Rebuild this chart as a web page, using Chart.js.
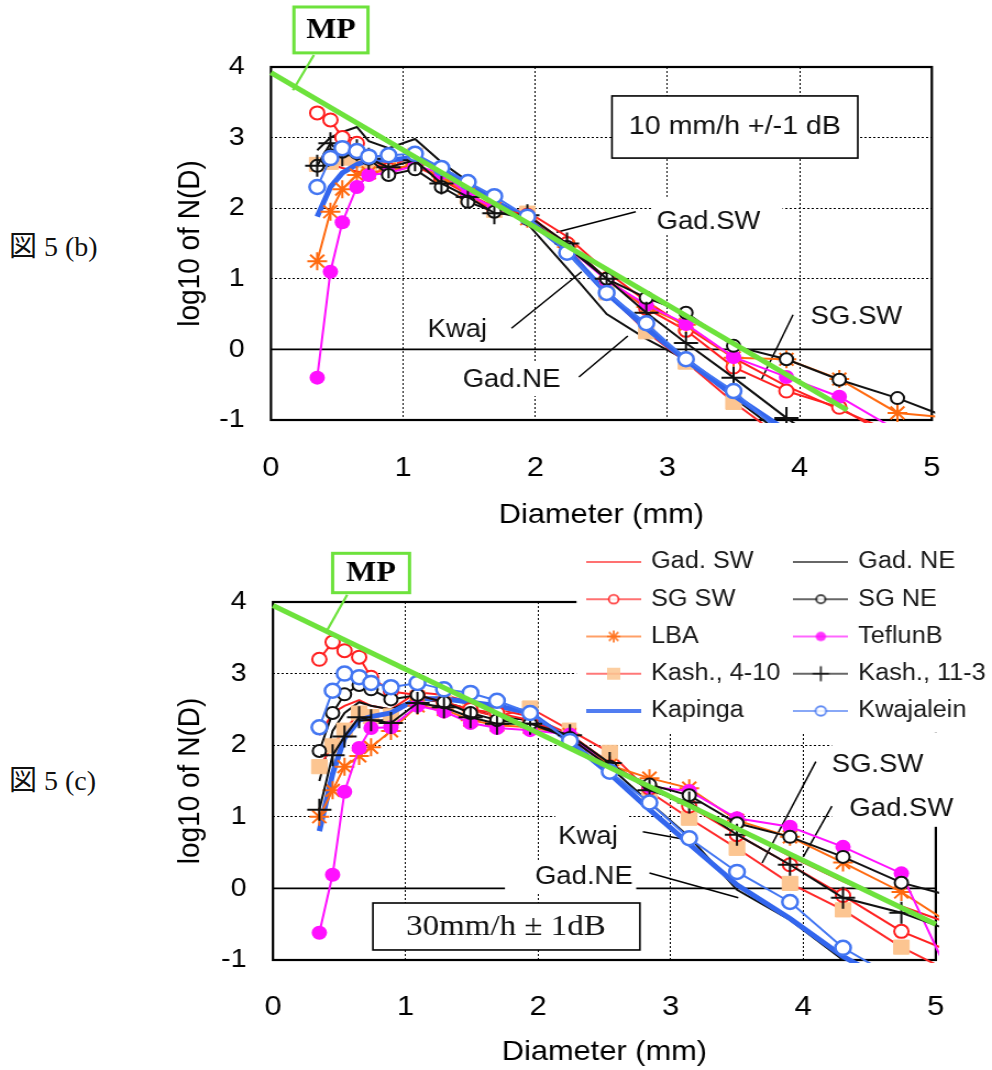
<!DOCTYPE html>
<html>
<head>
<meta charset="utf-8">
<script src="https://cdn.jsdelivr.net/npm/chart.js@4.4.1/dist/chart.umd.min.js"></script>
<style>
  body { margin: 0; background: #fff; }
  #page { position: relative; width: 992px; height: 1070px; overflow: hidden; }
  canvas { position: absolute; left: 0; }
  .fig { position: absolute; left: 9px; font: 28px "Liberation Serif", "Noto Sans CJK JP", serif; color: #111; line-height: 30px; }
</style>
</head>
<body>
<div id="page">
  <div class="fig" style="top:232px">図 5 (b)</div>
  <canvas id="chart-b" width="902" height="540" style="top:0;width:992px;height:540px"></canvas>
  <div class="fig" style="top:766px">図 5 (c)</div>
  <canvas id="chart-c" width="902" height="530" style="top:540px;width:992px;height:530px"></canvas>
</div>
<script>
// drop diameter bins (mm), shared by every site
const diameters = [0.35, 0.45, 0.54, 0.65, 0.74, 0.89, 1.09, 1.29, 1.49, 1.69, 1.94, 2.24, 2.54, 2.84, 3.14, 3.5, 3.9, 4.3, 4.74, 5.2];

const seriesNames = ["Gad. SW", "SG SW", "LBA", "Kash., 4-10", "Kapinga", "Gad. NE", "SG NE", "TeflunB", "Kash., 11-3", "Kwajalein"];

// log10 N(D), 10 mm/h
const gadSW_b   = [2.68, 2.62, 2.57, 2.52, 2.48, 2.5, 2.63, 2.4, 2.2, 2.02, 1.95, 1.6, 1.1, 0.68, 0.32, -0.12, -0.52, -0.85, -1.2, null];
const sgSW_b    = [3.35, 3.25, 3.0, 2.92, 2.72, 2.55, 2.6, 2.42, 2.2, 2.0, 1.9, 1.5, 1.0, 0.58, 0.27, -0.25, -0.59, -0.82, -1.3, null];
const lba_b     = [1.25, 1.95, 2.27, 2.47, 2.5, 2.55, 2.62, 2.45, 2.2, 2.0, 1.85, 1.45, 1.0, 0.6, 0.35, -0.12, -0.14, -0.42, -0.9, -0.98];
const kash410_b = [2.62, 2.65, 2.71, 2.68, 2.62, 2.58, 2.75, 2.5, 2.16, 1.97, 1.93, 1.45, 0.8, 0.25, -0.18, -0.75, -1.3, null, null, null];
const kapinga_b = [1.88, 2.3, 2.5, 2.62, 2.68, 2.68, 2.72, 2.55, 2.35, 2.1, 1.85, 1.4, 0.8, 0.3, -0.15, -0.65, -1.15, null, null, null];
const gadNE_b   = [2.82, 3.0, 3.08, 3.15, 2.95, 2.85, 2.98, 2.65, 2.38, 2.1, 1.78, 1.15, 0.5, 0.15, -0.15, -0.68, -1.25, null, null, null];
const sgNE_b    = [2.6, 2.75, 2.8, 2.78, 2.7, 2.47, 2.55, 2.3, 2.09, 1.95, 1.85, 1.45, 1.0, 0.73, 0.52, 0.05, -0.14, -0.43, -0.69, -1.02];
const teflun_b  = [-0.4, 1.1, 1.8, 2.3, 2.47, 2.5, 2.6, 2.5, 2.2, 2.0, 1.85, 1.45, 0.98, 0.63, 0.36, -0.11, -0.39, -0.67, -1.15, null];
const kash113_b = [2.6, 2.92, 2.75, 2.82, 2.7, 2.58, 2.68, 2.35, 2.16, 1.93, 1.9, 1.5, 1.0, 0.52, 0.09, -0.4, -0.97, -1.5, null, null];
const kwaj_b    = [2.3, 2.71, 2.85, 2.81, 2.73, 2.75, 2.77, 2.57, 2.37, 2.17, 1.88, 1.37, 0.8, 0.37, -0.14, -0.59, -1.25, null, null, null];

// log10 N(D), 30 mm/h
const gadSW_c   = [2.14, 2.45, 2.55, 2.63, 2.55, 2.5, 2.74, 2.7, 2.6, 2.5, 2.4, 2.15, 1.75, 1.4, 1.15, 0.85, 0.45, 0.1, -0.25, -0.55];
const sgSW_c    = [3.2, 3.44, 3.32, 3.23, 2.95, 2.75, 2.7, 2.6, 2.5, 2.45, 2.35, 2.1, 1.7, 1.4, 1.15, 0.75, 0.33, -0.1, -0.6, -0.95];
const lba_c     = [1.0, 1.37, 1.7, 1.85, 1.97, 2.2, 2.55, 2.5, 2.35, 2.28, 2.25, 2.15, 1.72, 1.54, 1.4, 0.95, 0.72, 0.36, -0.05, -0.6];
const kash410_c = [1.7, 1.99, 2.21, 2.45, 2.4, 2.41, 2.66, 2.6, 2.49, 2.4, 2.52, 2.21, 1.9, 1.35, 0.98, 0.56, 0.07, -0.3, -0.82, -1.25];
const kapinga_c = [0.8, 1.6, 2.1, 2.35, 2.4, 2.45, 2.65, 2.65, 2.6, 2.55, 2.45, 2.05, 1.6, 1.1, 0.62, 0.05, -0.42, -0.95, -1.4, null];
const gadNE_c   = [1.5, 2.2, 2.45, 2.6, 2.55, 2.5, 2.65, 2.6, 2.5, 2.4, 2.35, 2.1, 1.7, 1.2, 0.72, -0.02, -0.44, -1.0, null, null];
const sgNE_c    = [1.92, 2.45, 2.71, 2.84, 2.78, 2.64, 2.7, 2.6, 2.45, 2.35, 2.3, 2.1, 1.7, 1.45, 1.3, 0.91, 0.72, 0.44, 0.08, -0.15];
const teflun_c  = [-0.62, 0.19, 1.35, 1.96, 2.24, 2.25, 2.55, 2.47, 2.31, 2.24, 2.21, 2.15, 1.68, 1.42, 1.36, 0.98, 0.86, 0.58, 0.21, -1.6];
const kash113_c = [1.1, 1.86, 2.12, 2.39, 2.35, 2.31, 2.59, 2.53, 2.39, 2.3, 2.3, 2.14, 1.75, 1.37, 1.2, 0.75, 0.33, -0.13, -0.34, -0.65];
const kwaj_c    = [2.25, 2.76, 3.0, 2.95, 2.87, 2.81, 2.87, 2.78, 2.73, 2.62, 2.45, 2.06, 1.63, 1.2, 0.7, 0.23, -0.19, -0.83, -1.3, null];

// Marshall-Palmer reference line end points
const mpD_b = [0, 4.36];
const mpLog_b = [3.92, -0.86];
const mpD_c = [0, 5.0];
const mpLog_c = [3.95, -0.5];

const xTicks = [0, 1, 2, 3, 4, 5];
const yTicks = [-1, 0, 1, 2, 3, 4];

// canvases are drawn narrower and widened by css
const S = 1.1;
const SANS = "'Liberation Sans', Arial, sans-serif";
const SERIF = "'Liberation Serif', 'Times New Roman', serif";
const GREEN = "#6de23c";

Chart.defaults.font.family = SANS;
Chart.defaults.color = "#111";

const looks = [
  { color: "#ff2020", width: 2 },
  { color: "#ff2020", width: 2, style: "circle", r: 6.5, fill: "#fff", bw: 2 },
  { color: "#ff6a10", width: 2, style: "star", r: 9, fill: "#ff6a10", bw: 2 },
  { color: "#ff2a2a", width: 2, style: "rect", r: 10, fill: "#fcc591", bw: 1, pc: "#fcc591" },
  { color: "#3366ee", width: 5 },
  { color: "#111", width: 2 },
  { color: "#111", width: 2, style: "circle", r: 6, fill: "#fff", bw: 2 },
  { color: "#ff10ff", width: 2, style: "circle", r: 7, fill: "#ff10ff", bw: 0 },
  { color: "#111", width: 2, style: "cross", r: 11, fill: "#111", bw: 2 },
  { color: "#4477f2", width: 2, style: "circle", r: 7, fill: "#fff", bw: 2.5 },
];
const drawOrder = [10, 6, 5, 8, 7, 9, 3, 4, 2, 1];

function pts(vals) {
  return diameters.map((d, i) => ({ x: d, y: vals[i] })).filter((p) => p.y !== null);
}

function buildDatasets(series, mpD, mpLog) {
  const sets = series.map((vals, i) => {
    const lk = looks[i];
    return {
      label: seriesNames[i],
      data: pts(vals),
      borderColor: lk.color,
      borderWidth: lk.width,
      pointStyle: lk.style || false,
      pointRadius: lk.style ? lk.r : 0,
      pointBackgroundColor: lk.fill,
      pointBorderColor: lk.pc || lk.color,
      pointBorderWidth: lk.bw,
      order: drawOrder[i],
      clip: 3,
    };
  });
  sets.push({
    label: "MP",
    data: mpD.map((d, i) => ({ x: d, y: mpLog[i] })),
    borderColor: GREEN,
    borderWidth: 5,
    pointRadius: 0,
    order: 0,
    clip: 3,
  });
  return sets;
}

// small line + marker swatch for the legend
function drawMark(g, lk, x, y, r) {
  g.fillStyle = lk.fill;
  g.strokeStyle = lk.color;
  g.lineWidth = 1.8;
  g.beginPath();
  if (lk.style === "circle") {
    g.arc(x, y, r, 0, Math.PI * 2);
    g.fill();
    if (lk.bw) g.stroke();
  } else if (lk.style === "rect") {
    g.fillRect(x - r, y - r, 2 * r, 2 * r);
  } else if (lk.style === "cross") {
    g.moveTo(x - r, y); g.lineTo(x + r, y);
    g.moveTo(x, y - r); g.lineTo(x, y + r);
    g.stroke();
  } else if (lk.style === "star") {
    for (let k = 0; k < 4; k++) {
      const a = k * Math.PI / 4;
      g.moveTo(x - r * Math.cos(a), y - r * Math.sin(a));
      g.lineTo(x + r * Math.cos(a), y + r * Math.sin(a));
    }
    g.stroke();
  }
}

const legendIcons = looks.map((lk) => {
  const c = document.createElement("canvas");
  c.width = 50;
  c.height = 24;
  const g = c.getContext("2d");
  g.strokeStyle = lk.color;
  g.globalAlpha = 0.85;
  g.lineWidth = lk.width > 3 ? 4 : 1.6;
  g.beginPath();
  g.moveTo(0, 12);
  g.lineTo(50, 12);
  g.stroke();
  if (lk.style) drawMark(g, lk, 25, 12, lk.style === "rect" ? 6 : lk.r * 0.68);
  return c;
});

function drawNotes(chart, notes) {
  const { ctx, chartArea: a } = chart;
  const X = (v) => chart.scales.x.getPixelForValue(v);
  const Y = (v) => chart.scales.y.getPixelForValue(v);
  ctx.save();
  ctx.strokeStyle = "#000";
  ctx.lineWidth = 1.6;
  ctx.beginPath();
  ctx.moveTo(a.left, Y(0));
  ctx.lineTo(a.right, Y(0));
  ctx.stroke();
  ctx.lineWidth = 2.2;
  ctx.strokeRect(a.left, a.top, a.right - a.left, a.bottom - a.top);

  ctx.fillStyle = "#fff";
  notes.patches.forEach(([x0, x1, y0, y1]) => {
    ctx.fillRect(X(x0), Y(y0), X(x1) - X(x0), Y(y1) - Y(y0));
  });

  ctx.strokeStyle = "#000";
  ctx.lineWidth = 1.5;
  notes.leaders.forEach(([x0, y0, x1, y1]) => {
    ctx.beginPath();
    ctx.moveTo(X(x0), Y(y0));
    ctx.lineTo(X(x1), Y(y1));
    ctx.stroke();
  });

  ctx.fillStyle = "#111";
  ctx.font = "25px " + SANS;
  ctx.textAlign = "center";
  ctx.textBaseline = "middle";
  notes.labels.forEach(([t, x, y]) => ctx.fillText(t, X(x), Y(y)));

  // framed rain-rate caption
  const c = notes.caption;
  ctx.fillStyle = "#fff";
  ctx.fillRect(X(c.box[0]), Y(c.box[2]), X(c.box[1]) - X(c.box[0]), Y(c.box[3]) - Y(c.box[2]));
  ctx.lineWidth = 1.6;
  ctx.strokeRect(X(c.box[0]), Y(c.box[2]), X(c.box[1]) - X(c.box[0]), Y(c.box[3]) - Y(c.box[2]));
  ctx.fillStyle = "#111";
  ctx.font = c.font;
  ctx.fillText(c.text, X(c.at[0]), Y(c.at[1]));

  // MP tag
  const m = notes.mp;
  ctx.strokeStyle = GREEN;
  ctx.lineWidth = 2.2;
  ctx.beginPath();
  ctx.moveTo(X(m.lead[0]), Y(m.lead[1]));
  ctx.lineTo(X(m.lead[2]), Y(m.lead[3]));
  ctx.stroke();
  ctx.fillStyle = "#fff";
  ctx.fillRect(X(m.box[0]), Y(m.box[2]), X(m.box[1]) - X(m.box[0]), Y(m.box[3]) - Y(m.box[2]));
  ctx.lineWidth = 3;
  ctx.strokeRect(X(m.box[0]), Y(m.box[2]), X(m.box[1]) - X(m.box[0]), Y(m.box[3]) - Y(m.box[2]));
  ctx.fillStyle = "#000";
  ctx.font = "bold 29px " + SERIF;
  ctx.fillText("MP", (X(m.box[0]) + X(m.box[1])) / 2, (Y(m.box[2]) + Y(m.box[3])) / 2 + 1);
  ctx.restore();
}

const notesPlugin = {
  id: "notes",
  afterLayout(chart, args, opts) {
    const lg = chart.legend;
    if (!opts.legendAt || !lg) return;
    const [l, t, h] = opts.legendAt;
    lg.update(chart.width, h, { left: 0, top: 0, right: 0, bottom: 0 });
    lg.left = l;
    lg.top = t;
    lg.right = l + lg.width;
    lg.bottom = t + h;
  },
  beforeDatasetsDraw(chart, args, opts) {
    drawNotes(chart, opts.notes);
  },
  afterDatasetsDraw(chart, args, opts) {
    if (!opts.legendPatch) return;
    const X = (v) => chart.scales.x.getPixelForValue(v);
    const Y = (v) => chart.scales.y.getPixelForValue(v);
    const [x0, x1, y0, y1] = opts.legendPatch;
    chart.ctx.save();
    chart.ctx.fillStyle = "#fff";
    chart.ctx.fillRect(X(x0), Y(y0), X(x1) - X(x0), Y(y1) - Y(y0));
    chart.ctx.restore();
    chart.legend.draw();
  },
};

function makeChart(id, series, mpD, mpLog, lay, notes, withLegend) {
  return new Chart(document.getElementById(id), {
    type: "line",
    data: { datasets: buildDatasets(series, mpD, mpLog) },
    plugins: [notesPlugin],
    options: {
      responsive: false,
      animation: false,
      events: [],
      layout: { padding: { left: 0, right: lay.right, top: lay.top, bottom: 0 } },
      scales: {
        x: {
          type: "linear",
          min: 0,
          max: 5,
          afterBuildTicks: (s) => { s.ticks = xTicks.map((v) => ({ value: v })); },
          afterFit: (s) => { s.height = lay.xHeight; },
          grid: { color: "#000", lineWidth: 1, drawTicks: false },
          border: { display: false, dash: [2, 2] },
          ticks: { padding: lay.xPad, color: "#000", font: { size: 28 } },
          title: {
            display: true,
            text: "Diameter (mm)",
            color: "#000",
            font: { size: 28 },
            padding: { top: 0, bottom: lay.xTitlePad },
          },
        },
        y: {
          min: -1,
          max: 4,
          afterBuildTicks: (s) => { s.ticks = yTicks.map((v) => ({ value: v })); },
          afterFit: (s) => { s.width = lay.yWidth; },
          grid: { color: "#000", lineWidth: 1, drawTicks: false },
          border: { display: false, dash: [2, 2] },
          ticks: { padding: 24, color: "#000", font: { size: 26 } },
          title: {
            display: true,
            text: "log10 of N(D)",
            color: "#000",
            font: { size: 28 },
            padding: { top: 156, bottom: 0 },
          },
        },
      },
      plugins: {
        tooltip: { enabled: false },
        notes: {
          notes: notes,
          legendAt: withLegend ? [521.2, -3.75, 220] : null,
          legendPatch: withLegend ? [2.29, 5.5, 4.9, 2.18] : null,
        },
        legend: {
          display: withLegend,
          position: "chartArea",
          align: "start",
          labels: {
            font: { size: 23, family: SANS },
            color: "#1a1a1a",
            usePointStyle: true,
            pointStyleWidth: 45,
            padding: 14.25,
            filter: (item) => item.text !== "MP",
            generateLabels: (chart) => {
              const items = Chart.defaults.plugins.legend.labels.generateLabels(chart);
              items.sort((a, b) => a.datasetIndex - b.datasetIndex);
              items.forEach((it) => {
                if (it.datasetIndex < legendIcons.length) it.pointStyle = legendIcons[it.datasetIndex];
              });
              return items;
            },
          },
        },
      },
    },
  });
}

const notesB = {
  patches: [
    [2.88, 3.87, 2.16, 1.62],
    [4.06, 4.8, 0.7, 0.22],
    [1.13, 1.73, 0.53, 0.06],
    [1.41, 2.22, -0.18, -0.66],
  ],
  leaders: [
    [2.76, 1.95, 2.16, 1.66],
    [3.95, 0.49, 3.71, -0.43],
    [1.82, 0.3, 2.35, 1.1],
    [2.33, -0.39, 2.7, 0.19],
  ],
  labels: [
    ["Gad.SW", 3.31, 1.8],
    ["SG.SW", 4.43, 0.46],
    ["Kwaj", 1.41, 0.27],
    ["Gad.NE", 1.82, -0.43],
  ],
  caption: { box: [2.58, 4.44, 3.59, 2.71], at: [3.51, 3.15], text: "10 mm/h +/-1 dB", font: "26px " + SANS },
  mp: { box: [0.174, 0.734, 4.85, 4.2], lead: [0.325, 4.17, 0.166, 3.67] },
};

const notesC = {
  patches: [
    [4.216, 5.5, 2.18, 0.86],
    [2.13, 2.68, 1.16, 0.54],
    [1.75, 2.74, 0.37, -0.05],
  ],
  leaders: [
    [4.095, 1.77, 3.69, 0.355],
    [4.216, 1.15, 4.0, 0.44],
    [2.79, 0.79, 3.09, 0.69],
    [2.84, 0.215, 3.51, -0.13],
  ],
  labels: [
    ["SG.SW", 4.56, 1.72],
    ["Gad.SW", 4.74, 1.11],
    ["Kwaj", 2.376, 0.72],
    ["Gad.NE", 2.345, 0.16],
  ],
  caption: { box: [0.754, 2.768, -0.204, -0.86], at: [1.757, -0.54], text: "30mm/h ± 1dB", font: "30px " + SERIF },
  mp: { box: [0.45, 1.03, 4.68, 4.13], lead: [0.56, 4.1, 0.41, 3.61] },
};

makeChart(
  "chart-b",
  [gadSW_b, sgSW_b, lba_b, kash410_b, kapinga_b, gadNE_b, sgNE_b, teflun_b, kash113_b, kwaj_b],
  mpD_b, mpLog_b,
  { right: 902 - 932 / S, top: 67, xHeight: 120, xPad: 31, xTitlePad: 8.2, yWidth: 271 / S },
  notesB,
  false
);

makeChart(
  "chart-c",
  [gadSW_c, sgSW_c, lba_c, kash410_c, kapinga_c, gadNE_c, sgNE_c, teflun_c, kash113_c, kwaj_c],
  mpD_c, mpLog_c,
  { right: 902 - 936 / S, top: 62, xHeight: 110, xPad: 30, xTitlePad: 1.2, yWidth: 273 / S },
  notesC,
  true
);
</script>
</body>
</html>
